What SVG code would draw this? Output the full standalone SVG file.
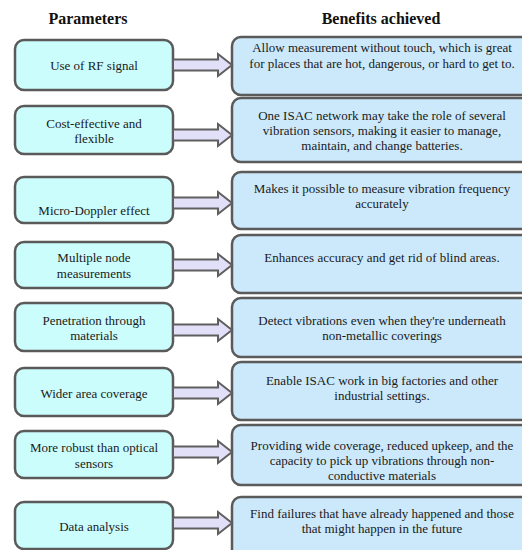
<svg xmlns="http://www.w3.org/2000/svg" xmlns:xlink="http://www.w3.org/1999/xlink" width="522" height="550" viewBox="0 0 522 550">
<style>
.hdr{font-family:"Liberation Serif","Times New Roman",serif;font-weight:bold;font-size:16px;fill:#111;text-anchor:middle}
.t{font-family:"Liberation Serif","Times New Roman",serif;font-size:13px;fill:#1a1a1a;text-anchor:middle}
.lb{fill:#ccfdfd;stroke:#5a5a5a;stroke-width:2.5}
.rb{fill:#cce9fb;stroke:#5a5a5a;stroke-width:2.5}
.ar{fill:#e2e0f8;stroke:#5f5f5f;stroke-width:2;stroke-linejoin:miter}
</style>
<defs>
<path id="arrow" class="ar" d="M173,-5.5 H218 V-11 L232,0 L218,11 V5.5 H173 Z"/>
</defs>
<rect width="522" height="550" fill="#ffffff"/>
<text class="hdr" x="88" y="24">Parameters</text>
<text class="hdr" x="381" y="24">Benefits achieved</text>

<g id="benefit1"><rect class="rb" x="232" y="37" width="300" height="58" rx="9"/>
<text class="t" x="382" y="51.5">Allow measurement without touch, which is great</text>
<text class="t" x="382" y="67.5">for places that are hot, dangerous, or hard to get to.</text></g>
<g id="benefit2"><rect class="rb" x="232" y="98" width="300" height="64" rx="9"/>
<text class="t" x="382" y="119.5">One ISAC network may take the role of several</text>
<text class="t" x="382" y="134.5">vibration sensors, making it easier to manage,</text>
<text class="t" x="382" y="149.5">maintain, and change batteries.</text></g>
<g id="benefit3"><rect class="rb" x="232" y="172" width="300" height="57" rx="9"/>
<text class="t" x="382" y="192.5">Makes it possible to measure vibration frequency</text>
<text class="t" x="382" y="207.5">accurately</text></g>
<g id="benefit4"><rect class="rb" x="232" y="235" width="300" height="58" rx="9"/>
<text class="t" x="382" y="261.5">Enhances accuracy and get rid of blind areas.</text></g>
<g id="benefit5"><rect class="rb" x="232" y="298" width="300" height="59" rx="9"/>
<text class="t" x="382" y="324.5">Detect vibrations even when they're underneath</text>
<text class="t" x="382" y="339.5">non-metallic coverings</text></g>
<g id="benefit6"><rect class="rb" x="232" y="362" width="300" height="58" rx="9"/>
<text class="t" x="382" y="384.5">Enable ISAC work in big factories and other</text>
<text class="t" x="382" y="399.5">industrial settings.</text></g>
<g id="benefit7"><rect class="rb" x="232" y="425" width="300" height="60" rx="9"/>
<text class="t" x="382" y="449.5">Providing wide coverage, reduced upkeep, and the</text>
<text class="t" x="382" y="464.5">capacity to pick up vibrations through non-</text>
<text class="t" x="382" y="479.5">conductive materials</text></g>
<g id="benefit8"><rect class="rb" x="232" y="497" width="300" height="70" rx="9"/>
<text class="t" x="382" y="517.5">Find failures that have already happened and those</text>
<text class="t" x="382" y="532.5">that might happen in the future</text></g>

<g id="param1"><rect class="lb" x="15" y="40" width="158" height="50" rx="9"/>
<text class="t" x="94" y="69.5">Use of RF signal</text></g>
<g id="param2"><rect class="lb" x="15" y="106" width="158" height="48" rx="9"/>
<text class="t" x="94" y="127.5">Cost-effective and</text>
<text class="t" x="94" y="142.5">flexible</text></g>
<g id="param3"><rect class="lb" x="15" y="177" width="158" height="46" rx="9"/>
<text class="t" x="94" y="214.5">Micro-Doppler effect</text></g>
<g id="param4"><rect class="lb" x="15" y="242" width="158" height="46" rx="9"/>
<text class="t" x="94" y="261.5">Multiple node</text>
<text class="t" x="94" y="277.5">measurements</text></g>
<g id="param5"><rect class="lb" x="15" y="303" width="158" height="48" rx="9"/>
<text class="t" x="94" y="324.5">Penetration through</text>
<text class="t" x="94" y="339.5">materials</text></g>
<g id="param6"><rect class="lb" x="15" y="368" width="158" height="48" rx="9"/>
<text class="t" x="94" y="397.5">Wider area coverage</text></g>
<g id="param7"><rect class="lb" x="15" y="431" width="158" height="47" rx="9"/>
<text class="t" x="94" y="451.5">More robust than optical</text>
<text class="t" x="94" y="467.5">sensors</text></g>
<g id="param8"><rect class="lb" x="15" y="502" width="158" height="47" rx="9"/>
<text class="t" x="94" y="530.5">Data analysis</text></g>

<g id="connectors">
<use xlink:href="#arrow" href="#arrow" transform="translate(0,65)"/>
<use xlink:href="#arrow" href="#arrow" transform="translate(0,135)"/>
<use xlink:href="#arrow" href="#arrow" transform="translate(0,203)"/>
<use xlink:href="#arrow" href="#arrow" transform="translate(0,265)"/>
<use xlink:href="#arrow" href="#arrow" transform="translate(0,330)"/>
<use xlink:href="#arrow" href="#arrow" transform="translate(0,393)"/>
<use xlink:href="#arrow" href="#arrow" transform="translate(0,452)"/>
<use xlink:href="#arrow" href="#arrow" transform="translate(0,523)"/>
</g>
</svg>
